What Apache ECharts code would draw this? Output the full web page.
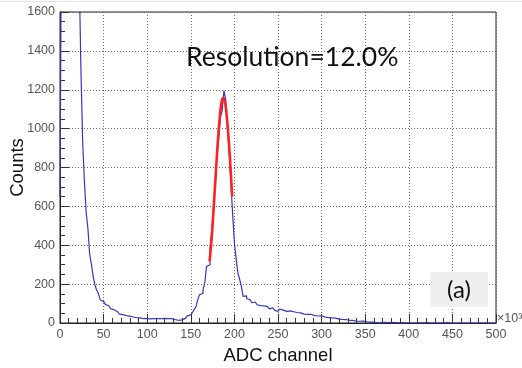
<!DOCTYPE html>
<html>
<head>
<meta charset="utf-8">
<script src="https://cdn.jsdelivr.net/npm/echarts@6/dist/echarts.min.js"></script>
<style>
html,body{margin:0;padding:0;background:#fff;}
#chart{width:522px;height:368px;}
</style>
</head>
<body>
<div id="chart"></div>
<script>
// ---- data (ADC channel in units of 10^3, bin width 2) ----
const binWidth = 2;
const counts = [
  650, 2400, 4200, 5600, 6200, 5900, 5200, 4400, 3600, 2900,
  2300, 1800, 1300, 935, 728, 570, 487, 355, 303, 240,
  197, 170, 152, 120, 111, 104, 96, 89, 80, 74,
  68, 65, 58, 52, 46, 43, 41, 38, 36, 35,
  34, 31, 28, 27, 25, 26, 24, 22, 25, 23,
  24, 21, 25, 22, 20, 23, 21, 22, 19, 24,
  21, 23, 20, 22, 19, 17, 20, 14, 12, 16,
  19, 24, 30, 37, 42, 48, 55, 70, 85, 120,
  146, 152, 170, 205, 291, 300, 390, 470, 600, 700,
  860, 950, 1060, 1090, 1195, 1150, 1000, 890, 720, 560,
  413, 330, 257, 225, 188, 137, 140, 125, 120, 115,
  104, 108, 110, 94, 89, 85, 88, 80, 84, 78,
  73, 78, 70, 66, 60, 68, 72, 66, 64, 60,
  58, 62, 56, 58, 52, 54, 50, 52, 48, 46,
  48, 44, 42, 45, 40, 38, 40, 36, 34, 37,
  32, 30, 33, 28, 30, 26, 24, 25, 22, 20,
  21, 18, 16, 17, 15, 14, 12, 13, 11, 10,
  12, 9, 8, 10, 7, 6, 8, 5, 6, 4,
  3, 2, 4, 1, 2, 3, 0, 2, 1, 3,
  0, 2, 0, 1, 0, 2, 0, 1, 0, 0,
  1, 0, 0, 0, 0, 1, 0, 0, 0, 2,
  0, 0, 0, 0, 0, 0, 0, 0, 1, 0,
  0, 2, 0, 0, 0, 0, 0, 0, 0, 0,
  0, 0, 0, 0, 0, 0, 0, 0, 0, 0,
  0, 0, 0, 0, 0, 0, 0, 0, 0, 0
];
// Gaussian fit curve
const fitX = [171.5, 174, 177, 180, 183, 185, 187, 189, 191, 193, 195, 197.5];
const fitY = [317, 440, 648, 866, 1049, 1128, 1157, 1140, 1075, 970, 840, 650];
const xTicks = [0, 50, 100, 150, 200, 250, 300, 350, 400, 450, 500];
const yTicks = [0, 200, 400, 600, 800, 1000, 1200, 1400, 1600];
const annotation = 'Resolution=12.0%';
const panelLabel = '(a)';
const xTitle = 'ADC channel';
const yTitle = 'Counts';

// ---- build ----
const histData = counts.map((c, i) => [i * binWidth, c]);
histData.push([counts.length * binWidth, counts[counts.length - 1]]);
const fitData = fitX.map((x, i) => [x, fitY[i]]);

const chart = echarts.init(document.getElementById('chart'), null, {renderer: 'canvas'});
const labelStyle = {color: '#555', fontSize: 12.5, fontFamily: 'Liberation Sans, Arial, sans-serif', formatter: v => String(v)};
const gridLine = {show: true, lineStyle: {color: '#6a6a6a', type: [1, 2], width: 1}};

chart.setOption({
  animation: false,
  backgroundColor: '#fff',
  grid: {left: 60, right: 26, top: 12, bottom: 45, containLabel: false, outerBoundsMode: 'none',
         show: true, borderColor: '#222', borderWidth: 1, backgroundColor: 'transparent'},
  xAxis: {
    type: 'value', min: xTicks[0], max: xTicks[xTicks.length - 1], interval: xTicks[1] - xTicks[0],
    name: xTitle, nameLocation: 'middle', nameGap: 23, nameMoveOverlap: false,
    nameTextStyle: {color: '#111', fontSize: 18.5, fontFamily: 'Liberation Sans, Arial, sans-serif'},
    axisLine: {show: true, lineStyle: {color: '#222', width: 1}},
    axisTick: {show: true, inside: true, length: 9, lineStyle: {color: '#333'}},
    minorTick: {show: true, splitNumber: 5, length: 5, lineStyle: {color: '#333'}},
    axisLabel: Object.assign({margin: 5, showMinLabel: true, showMaxLabel: true}, labelStyle),
    splitLine: gridLine
  },
  yAxis: {
    type: 'value', min: yTicks[0], max: yTicks[yTicks.length - 1], interval: yTicks[1] - yTicks[0],
    name: yTitle, nameLocation: 'middle', nameGap: 33, nameRotate: 90, nameMoveOverlap: false,
    nameTextStyle: {color: '#111', fontSize: 18.5, fontFamily: 'Liberation Sans, Arial, sans-serif'},
    axisLine: {show: true, lineStyle: {color: '#222', width: 1}},
    axisTick: {show: true, inside: true, length: 9, lineStyle: {color: '#333'}},
    minorTick: {show: true, splitNumber: 4, length: 5, lineStyle: {color: '#333'}},
    axisLabel: Object.assign({margin: 5, showMinLabel: true, showMaxLabel: true}, labelStyle),
    splitLine: gridLine
  },
  series: [
    {
      type: 'line', data: histData, step: 'end', symbol: 'none', clip: true,
      lineStyle: {color: '#3636c4', width: 1.2}, z: 3
    },
    {
      type: 'line', data: fitData, smooth: true, symbol: 'none', clip: true,
      lineStyle: {color: '#ff2222', width: 2.6}, z: 4
    }
  ],
  graphic: [
    {type: 'line', shape: {x1: 0, y1: 1.5, x2: 522, y2: 1.5}, style: {stroke: '#e2e2e2', lineWidth: 1}, z: 1},
    {type: 'text', left: 186, top: 44, style: {text: annotation, fill: '#111', font: '26.5px Lato, "Open Sans", sans-serif'}, z: 10},
    {type: 'rect', shape: {x: 430, y: 272, width: 58, height: 35}, style: {fill: '#efefef'}, z: 10},
    {type: 'text', x: 459, y: 290, style: {text: panelLabel, fill: '#111', font: '24px Lato, "Open Sans", sans-serif', align: 'center', verticalAlign: 'middle'}, z: 11},
    {type: 'text', x: 497, y: 312, style: {text: '\u00d710\u00b3', fill: '#555', font: '12.5px "Liberation Sans", Arial, sans-serif'}, z: 10}
  ]
});
</script>
</body>
</html>
